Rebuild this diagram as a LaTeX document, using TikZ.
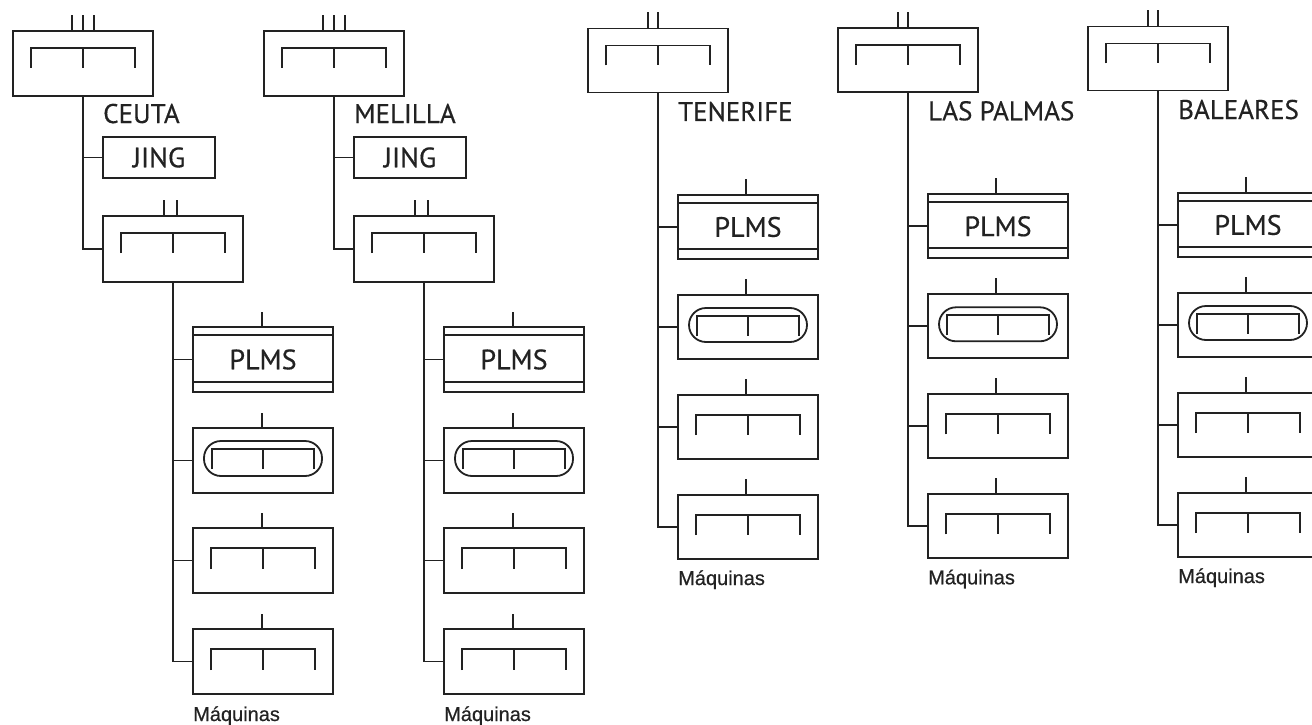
\documentclass[tikz,border=0pt]{standalone}
\usepackage{fontspec}
\newfontfamily\labfont[FakeBold=0.5]{PT Sans}
\newfontfamily\maqfont[FakeBold=0.6]{Liberation Sans}
\usetikzlibrary{calc}
\definecolor{ink}{HTML}{222222}
\tikzset{
  box/.style={draw=ink, line width=1.8pt, minimum width=140pt, minimum height=65pt, inner sep=0pt, outer sep=0pt},
  lbl/.style={font=\labfont\fontsize{27}{30}\selectfont, text=ink, inner sep=0pt, anchor=base west},
  boxtext/.style={font=\labfont\fontsize{28}{30}\selectfont, text=ink},
  maq/.style={font=\maqfont\fontsize{20}{22}\selectfont, text=ink, inner sep=0pt, anchor=base west},
  brk/.style 2 args={path picture={
    \draw[ink,line width=1.8pt] ($(path picture bounding box.north west)+(18,#2)$) -- ($(path picture bounding box.north west)+(18,#1)$) -- ($(path picture bounding box.north east)+(-18,#1)$) -- ($(path picture bounding box.north east)+(-18,#2)$);
    \draw[ink,line width=1.8pt] ($(path picture bounding box.north)+(0,#1)$) -- ($(path picture bounding box.north)+(0,#2)$);
  }},
  pill/.style={path picture={
    \draw[ink,line width=1.8pt,rounded corners=17pt] ($(path picture bounding box.north west)+(11,13)$) rectangle ($(path picture bounding box.south east)+(-11,-17)$);
    \draw[ink,line width=1.8pt] ($(path picture bounding box.north west)+(19,41)$) -- ($(path picture bounding box.north west)+(19,21)$) -- ($(path picture bounding box.north east)+(-19,21)$) -- ($(path picture bounding box.north east)+(-19,41)$);
    \draw[ink,line width=1.8pt] ($(path picture bounding box.north)+(0,21)$) -- ($(path picture bounding box.north)+(0,41)$);
  }},
  plms/.style={path picture={
    \draw[ink,line width=1.8pt] ($(path picture bounding box.north west)+(0,8)$) -- ($(path picture bounding box.north east)+(0,8)$);
    \draw[ink,line width=1.8pt] ($(path picture bounding box.south west)+(0,-10)$) -- ($(path picture bounding box.south east)+(0,-10)$);
  }},
  wire/.style={draw=ink, line width=1.8pt}
}
\newcommand\LeftCol[3]{%
\begin{scope}[xshift=#2pt]
  \node[box, brk={17}{37}] (t#1) at (83,63.5) {};
  \draw[wire] ([xshift=-11pt]t#1.north) -- ++(0,-16);
  \draw[wire] (t#1.north) -- ++(0,-16);
  \draw[wire] ([xshift=11pt]t#1.north) -- ++(0,-16);
  \node[lbl] (l#1) at (103,123) {#3};
  \node[box, boxtext, minimum width=112pt, minimum height=41pt] (j#1) at (159,157.5) {JING};
  \node[box, minimum height=66pt, brk={17}{37}] (s#1) at (173,249) {};
  \draw[wire] ([xshift=-9pt]s#1.north) -- ++(0,-16);
  \draw[wire] ([xshift=4pt]s#1.north) -- ++(0,-16);
  \node[box, boxtext, plms] (p#1) at (263,359.5) {PLMS};
  \node[box, pill] (r#1) at (263,460.5) {};
  \node[box, brk={20}{41}] (a#1) at (263,560.5) {};
  \node[box, brk={20}{41}] (b#1) at (263,661.5) {};
  \foreach \n in {p#1,r#1,a#1,b#1} {\draw[wire] ([xshift=-1pt]\n.north) -- ++(0,-15);}
  \node[maq] (m#1) at (193,721) {Máquinas};
  \draw[wire] (t#1.south) |- (s#1.west);
  \draw[wire] (j#1.west) -- (j#1.west -| t#1.south);
  \draw[wire] (s#1.south) |- (b#1.west);
  \foreach \n in {p#1,r#1,a#1} {\draw[wire] (\n.west) -- (\n.west -| s#1.south);}
\end{scope}}
\newcommand\RightCol[4]{%
\begin{scope}[xshift=#2pt, yshift=#3pt]
  \node[box, minimum height=64pt, brk={17}{37}] (t#1) at (658,60.5) {};
  \draw[wire] ([xshift=-10pt]t#1.north) -- ++(0,-16);
  \draw[wire] (t#1.north) -- ++(0,-16);
  \node[lbl] (l#1) at (678,121) {#4};
  \node[box, minimum height=64pt, boxtext, plms] (p#1) at (748,227) {PLMS};
  \node[box, minimum height=64pt, pill] (r#1) at (748,327) {};
  \node[box, minimum height=64pt, brk={20}{40}] (a#1) at (748,427) {};
  \node[box, minimum height=64pt, brk={20}{40}] (b#1) at (748,527) {};
  \foreach \n in {p#1,r#1,a#1,b#1} {\draw[wire] ([xshift=-2pt]\n.north) -- ++(0,-16);}
  \node[maq] (m#1) at (678,585) {Máquinas};
  \draw[wire] (t#1.south) |- (b#1.west);
  \foreach \n in {p#1,r#1,a#1} {\draw[wire] (\n.west) -- (\n.west -| t#1.south);}
\end{scope}}
\begin{document}
\begin{tikzpicture}[x=1pt,y=-1pt]
  \useasboundingbox (0,0) rectangle (1312,725);
  \fill[white] (0,0) rectangle (1312,725);
  \clip (0,0) rectangle (1312,725);
  \LeftCol{1}{0}{CEUTA}
  \LeftCol{2}{251}{MELILLA}
  \RightCol{3}{0}{0}{TENERIFE}
  \RightCol{4}{250}{0.7}{LAS PALMAS}
  \RightCol{5}{500}{2}{BALEARES}
\end{tikzpicture}
\end{document}
